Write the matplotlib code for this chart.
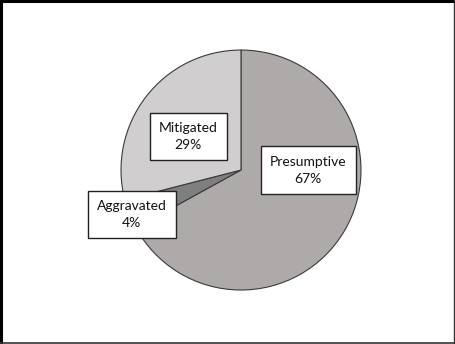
import matplotlib.pyplot as plt
from matplotlib.lines import Line2D

# Share of cases by sentence category
categories = ['Presumptive', 'Aggravated', 'Mitigated']
shares = [67, 4, 29]
colors = ['#aeaaaa', '#7f7f7f', '#d0cece']

# label box centres (data coords, pie radius = 1)
label_pos = [(0.56, 0.0), (-0.91, -0.37), (-0.44, 0.28)]

plt.rcParams['font.family'] = ['Lato', 'DejaVu Sans']

fig = plt.figure(figsize=(4.55, 3.44), dpi=100)
ax = fig.add_axes([0, 0, 1, 1])

ax.pie(shares, colors=colors, startangle=90, counterclock=False,
       radius=1.0, center=(0, 0),
       wedgeprops=dict(edgecolor='#3a3a3a', linewidth=0.8))

for cat, val, (x, y) in zip(categories, shares, label_pos):
    ax.text(x, y, f'{cat}\n{val}%', ha='center', va='center',
            fontsize=10, color='#111111', linespacing=1.5,
            bbox=dict(boxstyle='square,pad=0.65', facecolor='white',
                      edgecolor='#222222', linewidth=1.0))

ax.set_aspect('equal')
ax.set_xlim(-2.008, 1.783)
ax.set_ylim(-1.45, 1.417)
ax.axis('off')

# outer frame: heavier on top/left like the source image
fig.add_artist(Line2D([0.003, 0.003], [0, 1], transform=fig.transFigure,
                      color='black', linewidth=2.2))
fig.add_artist(Line2D([0, 1], [0.997, 0.997], transform=fig.transFigure,
                      color='black', linewidth=2.2))
fig.add_artist(Line2D([0, 1], [0.003, 0.003], transform=fig.transFigure,
                      color='#333333', linewidth=1.2))
fig.add_artist(Line2D([0.998, 0.998], [0, 1], transform=fig.transFigure,
                      color='#333333', linewidth=1.0))

fig.savefig('out.png', dpi=100)
